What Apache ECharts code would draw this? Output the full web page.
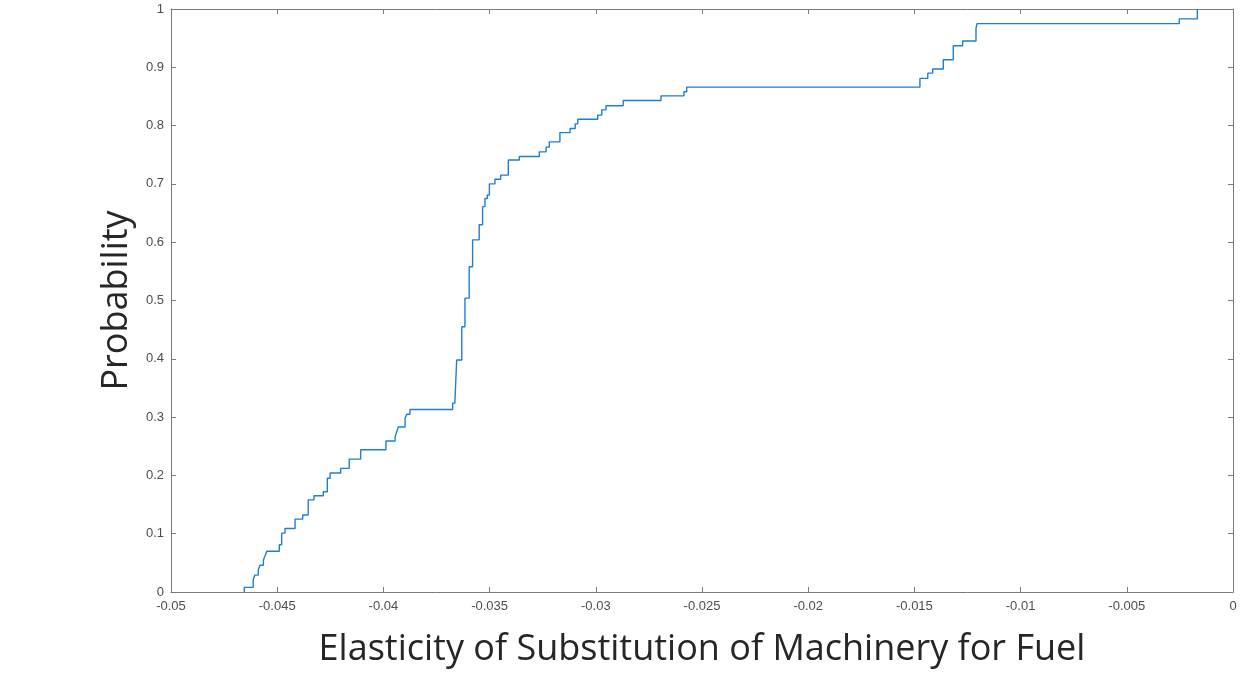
<!DOCTYPE html>
<html>
<head>
<meta charset="utf-8">
<script src="https://cdn.jsdelivr.net/npm/echarts@6/dist/echarts.min.js"></script>
<style>
  html, body { margin: 0; padding: 0; background: #fff; }
  #main { width: 1256px; height: 680px; }
</style>
</head>
<body>
<div id="main"></div>
<script>
var elasticity = [
  -0.04655, -0.04655, -0.04613, -0.04605, -0.04589, -0.04581, -0.04565, -0.04557, -0.04549,
  -0.04490, -0.04479, -0.04463, -0.04416, -0.04380, -0.04354, -0.04327, -0.04283, -0.04264,
  -0.04251, -0.04201, -0.04161, -0.04107, -0.03988, -0.03945, -0.03937, -0.03930, -0.03898,
  -0.03890, -0.03875, -0.03674, -0.03663, -0.03655, -0.03631, -0.03616, -0.03596, -0.03580,
  -0.03549, -0.03533, -0.03522, -0.03511, -0.03501, -0.03475, -0.03448, -0.03412, -0.03360,
  -0.03266, -0.03234, -0.03219, -0.03169, -0.03121, -0.03097, -0.03085, -0.02991, -0.02972,
  -0.02952, -0.02871, -0.02693, -0.02585, -0.02572, -0.01474, -0.01437, -0.01414, -0.01364,
  -0.01317, -0.01273, -0.01210, -0.01205, -0.00253, -0.00168
];
var probability = [
  0.000, 0.008, 0.021, 0.029, 0.038, 0.046, 0.055, 0.062, 0.070,
  0.081, 0.101, 0.109, 0.125, 0.132, 0.158, 0.165, 0.172, 0.195,
  0.204, 0.212, 0.228, 0.244, 0.259, 0.266, 0.275, 0.283, 0.298,
  0.305, 0.313, 0.324, 0.329, 0.398, 0.455, 0.504, 0.558, 0.604,
  0.630, 0.661, 0.675, 0.681, 0.700, 0.708, 0.715, 0.741, 0.747,
  0.755, 0.763, 0.772, 0.788, 0.795, 0.803, 0.811, 0.818, 0.827,
  0.834, 0.843, 0.851, 0.858, 0.866, 0.881, 0.890, 0.897, 0.913,
  0.937, 0.945, 0.967, 0.975, 0.983, 1.000
];
var xTicks = { min: -0.05, max: 0, interval: 0.005 };
var yTicks = { min: 0, max: 1, interval: 0.1 };

var chart = echarts.init(document.getElementById('main'));

var points = [];
for (var i = 0; i < elasticity.length; i++) {
  points.push([elasticity[i], probability[i]]);
}

// box around the plot: all four sides, ticks pointing in
var axisLine = { show: true, onZero: false, lineStyle: { color: '#7a7a7a', width: 1 } };
var axisTick = { show: true, inside: true, length: 5, lineStyle: { color: '#7a7a7a' } };
var tickFont = { color: '#4d4d4d', fontSize: 13, fontFamily: 'Liberation Sans, Arial, sans-serif' };
var titleFont = { fontSize: 36, color: '#262626', fontFamily: 'Open Sans, Noto Sans, sans-serif' };

var option = {
  animation: false,
  backgroundColor: '#fff',
  grid: { left: 171, right: 23, top: 9, bottom: 88 },
  xAxis: [
    {
      type: 'value', min: xTicks.min, max: xTicks.max, interval: xTicks.interval,
      position: 'bottom',
      axisLine: axisLine, axisTick: axisTick, splitLine: { show: false },
      axisLabel: Object.assign({ margin: 8, showMinLabel: true, showMaxLabel: true }, tickFont),
      name: 'Elasticity of Substitution of Machinery for Fuel',
      nameLocation: 'middle', nameGap: 40,
      nameTextStyle: titleFont
    },
    {
      type: 'value', min: xTicks.min, max: xTicks.max, interval: xTicks.interval,
      position: 'top',
      axisLine: axisLine, axisTick: axisTick, splitLine: { show: false },
      axisLabel: { show: false }
    }
  ],
  yAxis: [
    {
      type: 'value', min: yTicks.min, max: yTicks.max, interval: yTicks.interval,
      position: 'left',
      axisLine: axisLine, axisTick: axisTick, splitLine: { show: false },
      axisLabel: Object.assign({ margin: 7 }, tickFont),
      name: 'Probability',
      nameLocation: 'middle', nameGap: 30,
      nameTextStyle: titleFont
    },
    {
      type: 'value', min: yTicks.min, max: yTicks.max, interval: yTicks.interval,
      position: 'right',
      axisLine: axisLine, axisTick: axisTick, splitLine: { show: false },
      axisLabel: { show: false }
    }
  ],
  series: [
    {
      type: 'line',
      xAxisIndex: 0, yAxisIndex: 0,
      step: 'end',
      showSymbol: false,
      data: points,
      lineStyle: { color: '#1f7fcf', width: 1.4 }
    }
  ]
};

chart.setOption(option);
</script>
</body>
</html>
